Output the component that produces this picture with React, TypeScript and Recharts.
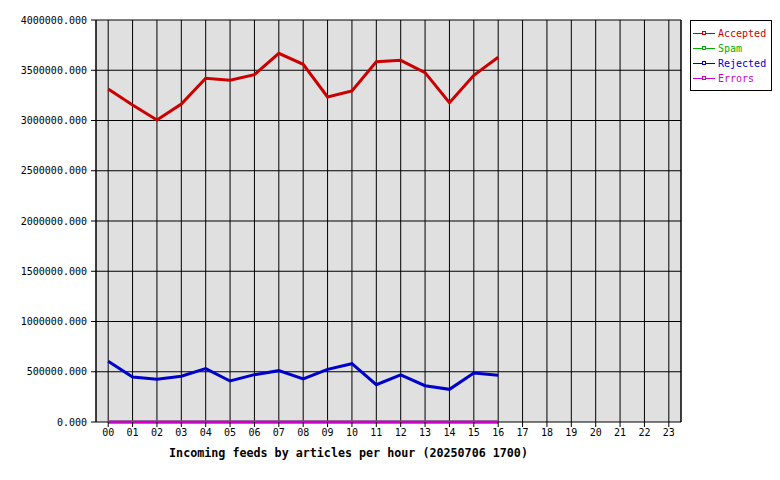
import { LineChart, Line, XAxis, YAxis, CartesianGrid, Legend } from 'recharts';

const FONT = '"DejaVu Sans Mono", "Liberation Mono", monospace';

const hours = [
  '00', '01', '02', '03', '04', '05', '06', '07', '08', '09', '10', '11',
  '12', '13', '14', '15', '16', '17', '18', '19', '20', '21', '22', '23',
];

// values for hours 00..16 only (the day is not over yet)
const accepted = [
  3313000, 3154000, 3005000, 3164000, 3420000, 3400000, 3456000, 3669000, 3559000,
  3234000, 3294000, 3585000, 3599000, 3476000, 3177000, 3450000, 3629000,
];
const spam = [0, 0, 0, 0, 0, 0, 0, 0, 0, 0, 0, 0, 0, 0, 0, 0, 0];
const rejected = [
  604000, 448000, 425000, 455000, 531000, 408000, 471000, 511000, 428000,
  524000, 580000, 371000, 468000, 361000, 325000, 488000, 465000,
];
const errors = [0, 0, 0, 0, 0, 0, 0, 0, 0, 0, 0, 0, 0, 0, 0, 0, 0];

const yTicks = [0, 500000, 1000000, 1500000, 2000000, 2500000, 3000000, 3500000, 4000000];

const title = 'Incoming feeds by articles per hour (20250706 1700)';

const data = hours.map((hour, i) => ({
  hour,
  Accepted: accepted[i],
  Spam: spam[i],
  Rejected: rejected[i],
  Errors: errors[i],
}));

function LegendBox({ payload }: any) {
  const order = ['Accepted', 'Spam', 'Rejected', 'Errors'];
  const items = order
    .map((n) => (payload || []).find((p: any) => p.value === n))
    .filter(Boolean);
  return (
    <div
      style={{
        border: '1px solid #000',
        background: '#fff',
        width: 82,
        height: 71,
        boxSizing: 'border-box',
        padding: '5px 0 0 2px',
        fontFamily: FONT,
        fontSize: 10,
        lineHeight: '15px',
      }}
    >
      {items.map((p: any) => (
        <div key={p.value} style={{ display: 'flex', alignItems: 'center', height: 15 }}>
          <svg width={24} height={7} style={{ marginRight: 1 }}>
            <line x1={0} y1={3.5} x2={22} y2={3.5} stroke={p.color} strokeWidth={1} />
            <rect x={9.5} y={1.5} width={3} height={3} fill="#fff" stroke={p.color} strokeWidth={1} />
          </svg>
          <span style={{ color: p.color }}>{p.value}</span>
        </div>
      ))}
    </div>
  );
}

export default function App() {
  return (
    <div style={{ position: 'absolute', left: 0, top: 0, width: 780, height: 480, background: '#fff' }}>
      <LineChart width={780} height={480} data={data} margin={{ top: 20, right: 98, bottom: 0, left: 0 }}>
        <CartesianGrid stroke="#000" fill="#e0e0e0" fillOpacity={1} />
        <XAxis
          dataKey="hour"
          scale="band"
          height={58}
          interval={0}
          tickSize={5}
          tickMargin={2}
          axisLine={false}
          tickLine={{ stroke: '#000' }}
          tick={{ fill: '#000', fontSize: 10, fontFamily: FONT }}
          label={{
            value: title,
            position: 'insideBottom',
            offset: 23,
            dx: -40,
            style: { fill: '#000', fontSize: 11.7, fontWeight: 'bold', fontFamily: FONT },
          }}
        />
        <YAxis
          width={96}
          domain={[0, 4000000]}
          ticks={yTicks}
          interval={0}
          tickSize={5}
          tickMargin={4}
          stroke="#000"
          tickFormatter={(v: number) => v.toFixed(3)}
          tick={{ fill: '#000', fontSize: 10, fontFamily: FONT }}
        />
        <YAxis yAxisId="r" orientation="right" width={1} tick={false} tickLine={false} stroke="#000" />
        <Legend
          layout="vertical"
          align="center"
          verticalAlign="middle"
          content={<LegendBox />}
          wrapperStyle={{ left: 690, top: 20, width: 82, height: 71 }}
        />
        <Line type="linear" dataKey="Accepted" stroke="#cc0000" strokeWidth={3} dot={false} isAnimationActive={false} />
        <Line type="linear" dataKey="Spam" stroke="#00b000" strokeWidth={3} dot={false} isAnimationActive={false} />
        <Line type="linear" dataKey="Rejected" stroke="#0000cc" strokeWidth={3} dot={false} isAnimationActive={false} />
        <Line type="linear" dataKey="Errors" stroke="#cc00cc" strokeWidth={3} dot={false} isAnimationActive={false} />
      </LineChart>
    </div>
  );
}
